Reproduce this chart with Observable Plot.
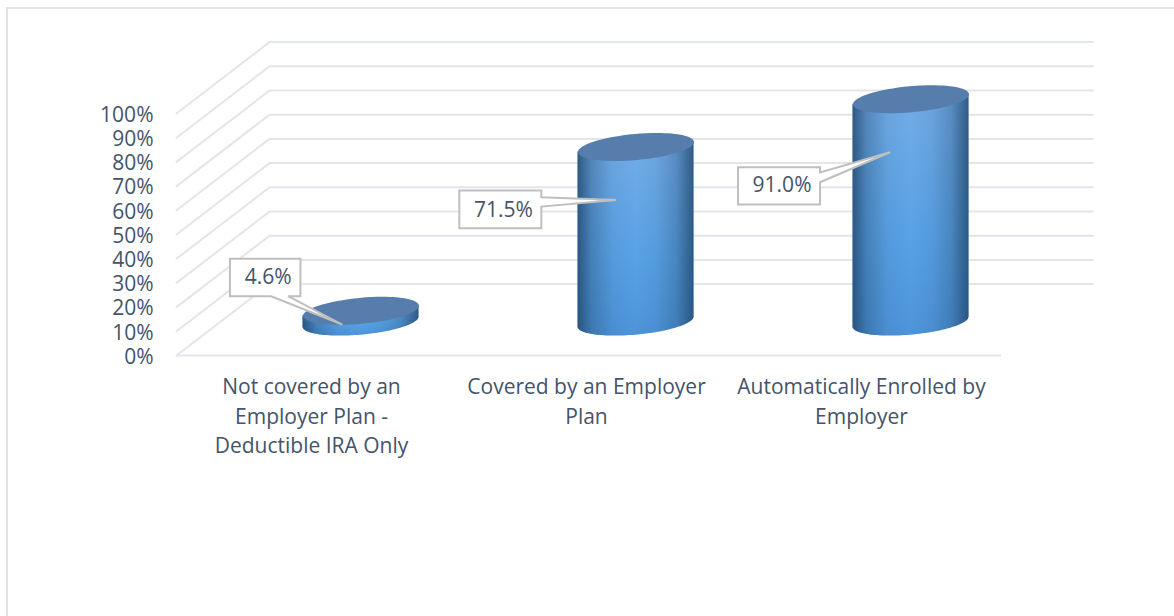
<!DOCTYPE html>
<html>
<head>
<meta charset="utf-8">
<script src="https://cdn.jsdelivr.net/npm/d3@7"></script>
<script src="https://cdn.jsdelivr.net/npm/@observablehq/plot@0.6"></script>
<style>
html,body{margin:0;padding:0;background:#fff;overflow:hidden;width:1174px;height:616px}
#frame{position:absolute;left:6px;top:7px;right:0;bottom:0;border-left:2px solid #dfe4e9;border-top:2px solid #dfe4e9}
#chart{position:absolute;left:0;top:0}
svg{display:block}
</style>
</head>
<body>
<div id="frame"></div>
<div id="chart"></div>
<script>
// Data
const categories = ["Not covered by an\nEmployer Plan -\nDeductible IRA Only", "Covered by an Employer\nPlan", "Automatically Enrolled by\nEmployer"];
const values = [4.6, 71.5, 91.0];
const yTicks = [0, 10, 20, 30, 40, 50, 60, 70, 80, 90, 100];

// 3D projection, in scale units: how far the back wall sits from the front edge
const depthX = 0.3385, depthY = 29.5;
const barDepthX = 0.171, barDepthY = 13.8, barScale = 1.012;

// Leader tips on each bar (scale units) and callout outlines relative to the tip (px)
const tipShifts = [-0.0687, -0.0727, -0.0763];
const tipValues = [12.8, 64.3, 84];
const calloutShapes = [
  [[-112.2,-65.7],[-41.7,-65.7],[-41.7,-28.3],[-54,-28.3],[0,0],[-71,-28.3],[-112.2,-28.3]],
  [[-156.7,-9.3],[-74.7,-9.3],[-74.7,-2.6],[0,0],[-74.7,6.7],[-74.7,28.4],[-156.7,28.4]],
  [[-152,15],[-70,15],[-70,20.3],[0,0],[-70,30],[-70,52.3],[-152,52.3]]
];
const calloutText = [[-74,-47],[-112.5,10.5],[-108,33.5]];

const ink = "#44546a", gridColor = "#e2e5ea";
const font = "'Open Sans', sans-serif";

// cylinder cap geometry (px) and the scale factors that turn it into scale units
const capA = 58.2, capB = 13, capTilt = -5.2 * Math.PI / 180;
const pxPerX = 825 / 3, pxPerY = 242 / 100;

const ellipse = {
  draw(ctx, size) {
    const a = Math.sqrt(size / Math.PI), b = a * capB / capA, t = capTilt, k = 0.5522847;
    const p = (u, v) => [u * Math.cos(t) - v * Math.sin(t), u * Math.sin(t) + v * Math.cos(t)];
    ctx.moveTo(...p(a, 0));
    ctx.bezierCurveTo(...p(a, k*b), ...p(k*a, b), ...p(0, b));
    ctx.bezierCurveTo(...p(-k*a, b), ...p(-a, k*b), ...p(-a, 0));
    ctx.bezierCurveTo(...p(-a, -k*b), ...p(-k*a, -b), ...p(0, -b));
    ctx.bezierCurveTo(...p(k*a, -b), ...p(a, -k*b), ...p(a, 0));
    ctx.closePath();
  }
};
const polygon = (pts) => ({
  draw(ctx) {
    pts.forEach(([x, y], i) => i ? ctx.lineTo(x, y) : ctx.moveTo(x, y));
    ctx.closePath();
  }
});

const grid = yTicks.flatMap((v) => [
  {v, x: 0, y: v},
  {v, x: depthX, y: v + depthY},
  {v, x: 3 + depthX - 0.006, y: v + depthY}
]);
const bars = values.map((v, i) => ({i, v, h: v * barScale, x: i + 0.5 + barDepthX}));

// Side of each cylinder: its lower edge follows the front half of the base cap
const t0 = Math.atan2(-capB * Math.sin(capTilt), capA * Math.cos(capTilt));
const capSamples = d3.range(0, 61).map((k) => t0 + Math.PI * k / 60);
const capX = (t) => capA * Math.cos(t) * Math.cos(capTilt) - capB * Math.sin(t) * Math.sin(capTilt);
const capY = (t) => capA * Math.cos(t) * Math.sin(capTilt) + capB * Math.sin(t) * Math.cos(capTilt);
const xMax = capX(t0), yAtMax = capY(t0);
const sides = bars.flatMap((b) => capSamples.map((t) => {
  const px = capX(t), chord = yAtMax * px / xMax;
  return {
    i: b.i,
    x: b.x + px / pxPerX,
    y1: barDepthY - capY(t) / pxPerY,
    y2: barDepthY + b.h - chord / pxPerY
  };
}));

const chart = Plot.plot({
  width: 1174,
  height: 616,
  marginLeft: 176,
  marginRight: 173,
  marginTop: 113,
  marginBottom: 261,
  style: {background: "transparent", fontFamily: font},
  x: {domain: [0, 3]},
  y: {domain: [0, 100]},
  marks: [
    Plot.line(grid, {x: "x", y: "y", z: "v", stroke: gridColor, strokeWidth: 2}),
    Plot.ruleY([0], {x1: 0, x2: 3, stroke: gridColor, strokeWidth: 2}),
    Plot.axisY({ticks: yTicks, tickSize: 0, tickPadding: 23, tickFormat: (d) => d + "%", fontSize: 21, color: ink, label: null, dy: 1.5}),
    Plot.axisX({ticks: [0.5, 1.5, 2.5], tickSize: 0, tickPadding: 18, dx: -2.5, tickFormat: (d) => categories[d - 0.5 >> 0], fontSize: 21, color: ink, label: null, lineHeight: 1.4}),
    Plot.areaY(sides, {x: "x", y1: "y1", y2: "y2", z: "i", fill: "url(#vert)", stroke: "none"}),
    Plot.areaY(sides, {x: "x", y1: "y1", y2: "y2", z: "i", fill: "url(#horiz)", stroke: "none"}),
    Plot.dot(bars, {x: "x", y: (d) => barDepthY + d.h, r: capA, symbol: ellipse, fill: "#567dab", stroke: "none"}),
    ...values.flatMap((v, i) => {
      const pos = [{x: bars[i].x + tipShifts[i], y: tipValues[i]}];
      return [
        Plot.dot(pos, {x: "x", y: "y", r: 10, symbol: polygon(calloutShapes[i]), fill: "#fff", stroke: "#bfbfbf", strokeWidth: 2}),
        Plot.text(pos, {x: "x", y: "y", text: () => v.toFixed(1) + "%", dx: calloutText[i][0], dy: calloutText[i][1], fontSize: 21, fill: ink})
      ];
    })
  ]
});

const defs = d3.select(chart).insert("defs", ":first-child");
const vert = defs.append("linearGradient").attr("id", "vert").attr("x1", 0).attr("x2", 0).attr("y1", 0).attr("y2", 1);
[[0, "#74ade8"], [0.6, "#58a2e6"], [1, "#4d94da"]].forEach(([o, c]) => vert.append("stop").attr("offset", o).attr("stop-color", c));
const horiz = defs.append("linearGradient").attr("id", "horiz").attr("x1", 0).attr("x2", 1).attr("y1", 0).attr("y2", 0);
[[0, 0.8], [0.12, 0.36], [0.3, 0.08], [0.5, 0], [0.68, 0.08], [0.85, 0.3], [1, 0.78]].forEach(([o, a]) =>
  horiz.append("stop").attr("offset", o).attr("stop-color", "#1f4468").attr("stop-opacity", a));

document.getElementById("chart").append(chart);
</script>
</body>
</html>
